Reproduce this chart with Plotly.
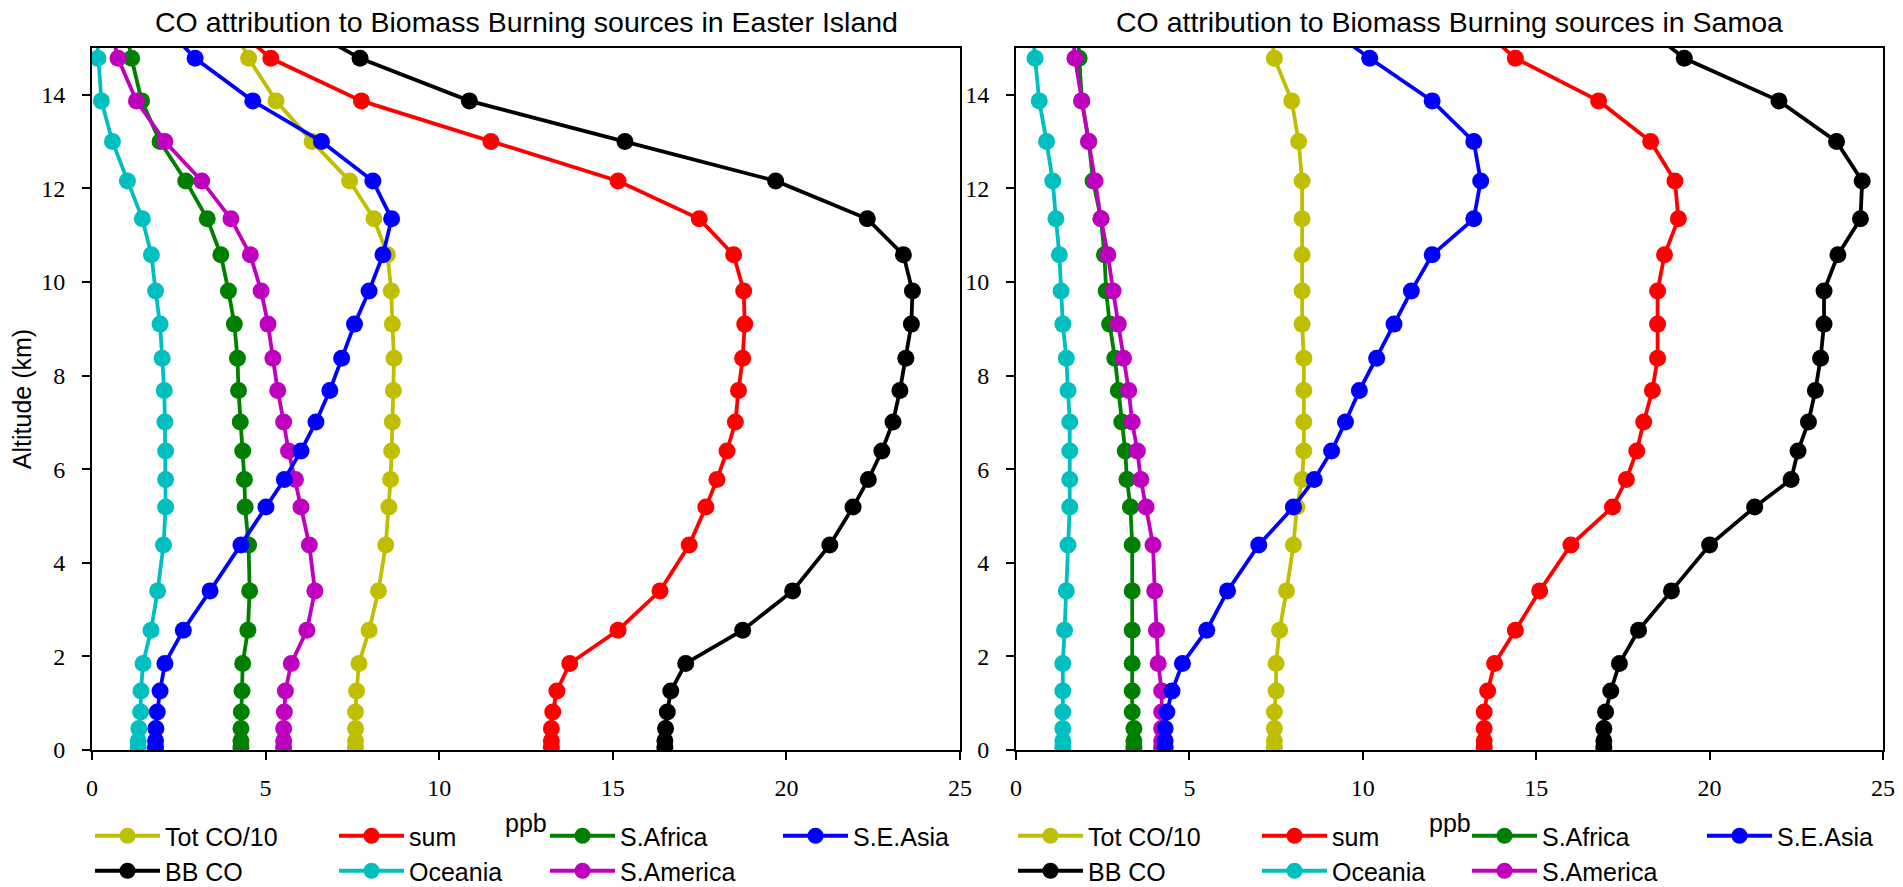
import plotly.graph_objects as go

# Model level mid-point altitudes (km), bottom to top
altitude_km = [0.06, 0.20, 0.46, 0.81, 1.26, 1.85, 2.56, 3.40, 4.38, 5.19, 5.78, 6.39,
               7.01, 7.68, 8.37, 9.10, 9.81, 10.58, 11.35, 12.16, 13.00, 13.87, 14.78, 15.70]

# Easter Island profiles (ppb)
easter_tot_co_10 = [7.59, 7.59, 7.59, 7.59, 7.62, 7.69, 7.98, 8.25, 8.46, 8.55, 8.60, 8.63,
                    8.65, 8.68, 8.70, 8.65, 8.62, 8.51, 8.12, 7.42, 6.34, 5.30, 4.51, 3.90]
easter_bb_co = [16.50, 16.50, 16.52, 16.57, 16.67, 17.10, 18.74, 20.18, 21.25, 21.92, 22.36, 22.75,
                23.07, 23.27, 23.44, 23.60, 23.63, 23.37, 22.33, 19.69, 15.35, 10.87, 7.72, 5.50]
easter_sum = [13.23, 13.23, 13.23, 13.27, 13.39, 13.76, 15.15, 16.36, 17.20, 17.68, 18.00, 18.29,
              18.53, 18.62, 18.74, 18.80, 18.77, 18.48, 17.49, 15.15, 11.49, 7.76, 5.15, 3.70]
easter_oceania = [1.33, 1.33, 1.35, 1.40, 1.41, 1.47, 1.70, 1.89, 2.06, 2.12, 2.12, 2.12,
                  2.10, 2.08, 2.02, 1.96, 1.83, 1.71, 1.45, 1.02, 0.59, 0.27, 0.17, 0.10]
easter_s_africa = [4.29, 4.29, 4.29, 4.30, 4.32, 4.34, 4.49, 4.54, 4.51, 4.41, 4.39, 4.34,
                   4.27, 4.22, 4.19, 4.10, 3.93, 3.71, 3.32, 2.70, 1.96, 1.43, 1.14, 0.90]
easter_s_america = [5.52, 5.52, 5.52, 5.54, 5.57, 5.74, 6.19, 6.42, 6.26, 6.02, 5.86, 5.66,
                    5.52, 5.35, 5.21, 5.07, 4.87, 4.56, 4.00, 3.16, 2.10, 1.28, 0.75, 0.45]
easter_se_asia = [1.83, 1.83, 1.84, 1.88, 1.96, 2.10, 2.63, 3.40, 4.29, 5.01, 5.54, 6.02,
                  6.45, 6.85, 7.19, 7.56, 7.98, 8.38, 8.63, 8.09, 6.61, 4.63, 2.97, 1.80]

# Samoa profiles (ppb)
samoa_tot_co_10 = [7.45, 7.45, 7.45, 7.45, 7.50, 7.50, 7.60, 7.80, 8.00, 8.10, 8.25, 8.30,
                   8.30, 8.30, 8.30, 8.25, 8.25, 8.25, 8.25, 8.25, 8.15, 7.95, 7.45, 7.30]
samoa_bb_co = [16.95, 16.95, 16.95, 17.00, 17.15, 17.40, 17.95, 18.90, 20.00, 21.30, 22.35, 22.55,
               22.85, 23.05, 23.20, 23.30, 23.30, 23.70, 24.35, 24.40, 23.66, 22.00, 19.27, 17.70]
samoa_sum = [13.50, 13.50, 13.50, 13.50, 13.60, 13.80, 14.40, 15.10, 16.00, 17.20, 17.60, 17.90,
             18.10, 18.35, 18.50, 18.50, 18.50, 18.70, 19.10, 19.00, 18.30, 16.80, 14.40, 13.00]
samoa_oceania = [1.35, 1.35, 1.35, 1.35, 1.35, 1.35, 1.40, 1.45, 1.50, 1.55, 1.55, 1.55,
                 1.55, 1.50, 1.45, 1.35, 1.30, 1.25, 1.15, 1.06, 0.88, 0.67, 0.55, 0.45]
samoa_s_africa = [3.40, 3.40, 3.40, 3.35, 3.35, 3.35, 3.35, 3.35, 3.35, 3.30, 3.20, 3.15,
                  3.05, 2.95, 2.85, 2.70, 2.60, 2.55, 2.45, 2.22, 2.10, 1.90, 1.82, 1.75]
samoa_s_america = [4.20, 4.20, 4.20, 4.20, 4.20, 4.10, 4.05, 4.00, 3.95, 3.75, 3.60, 3.50,
                   3.35, 3.25, 3.10, 2.95, 2.80, 2.65, 2.45, 2.28, 2.09, 1.89, 1.70, 1.60]
samoa_se_asia = [4.30, 4.30, 4.30, 4.35, 4.50, 4.80, 5.50, 6.10, 7.00, 8.00, 8.60, 9.10,
                 9.50, 9.90, 10.40, 10.90, 11.40, 12.00, 13.20, 13.40, 13.20, 12.00, 10.20, 8.50]

series_names = ["Tot CO/10", "BB CO", "sum", "Oceania", "S.Africa", "S.America", "S.E.Asia"]
series_colors = ["#bfbf00", "#000000", "#ff0000", "#00bfbf", "#008000", "#bf00bf", "#0000ff"]

panels = [
    dict(title="CO attribution to Biomass Burning sources in Easter Island",
         series=[easter_tot_co_10, easter_bb_co, easter_sum, easter_oceania,
                 easter_s_africa, easter_s_america, easter_se_asia]),
    dict(title="CO attribution to Biomass Burning sources in Samoa",
         series=[samoa_tot_co_10, samoa_bb_co, samoa_sum, samoa_oceania,
                 samoa_s_africa, samoa_s_america, samoa_se_asia]),
]

W, H = 1903, 887
X_DOMAINS_PX = [(92, 960), (1016, 1883)]
Y_TOP_PX, Y_BOT_PX = 48, 750

# legend slot (column, row) for each series, laid out as 4 columns x 2 rows
legend_slots = {"Tot CO/10": (0, 0), "sum": (1, 0), "S.Africa": (2, 0), "S.E.Asia": (3, 0),
                "BB CO": (0, 1), "Oceania": (1, 1), "S.America": (2, 1)}
legend_col_px = [[100, 344, 555, 788], [1023, 1267, 1477, 1712]]
legend_row_px = [836, 871]

SANS = "Liberation Sans, Arial, sans-serif"
SERIF = "Liberation Serif, Times New Roman, serif"


def px_x(px):
    return px / W


def px_y(px):
    return 1 - px / H


fig = go.Figure()
layout_extra = {}
legend_index = 0
for p, panel in enumerate(panels):
    xa = "x" if p == 0 else "x2"
    ya = "y" if p == 0 else "y2"
    for name, color, values in zip(series_names, series_colors, panel["series"]):
        legend_index += 1
        lname = "legend" if legend_index == 1 else f"legend{legend_index}"
        col, row = legend_slots[name]
        fig.add_trace(go.Scatter(
            x=values, y=altitude_km, name=name, mode="lines+markers",
            line=dict(color=color, width=3.8),
            marker=dict(color=color, size=17),
            xaxis=xa, yaxis=ya, legend=lname, showlegend=True,
        ))
        layout_extra[lname] = dict(
            x=px_x(legend_col_px[p][col] - 10), y=px_y(legend_row_px[row]),
            xanchor="left", yanchor="middle", orientation="v",
            bgcolor="rgba(0,0,0,0)", borderwidth=0, itemwidth=65,
            font=dict(family=SANS, size=25, color="#000000"),
        )

axis_common = dict(
    showline=True, mirror=True, linecolor="#000000", linewidth=2,
    ticks="outside", ticklen=8, tickwidth=2, tickcolor="#000000",
    showgrid=False, zeroline=False,
    tickfont=dict(family=SERIF, size=24, color="#000000"),
)

y_dom = [px_y(Y_BOT_PX), px_y(Y_TOP_PX)]
fig.update_layout(
    width=W, height=H, margin=dict(l=0, r=0, t=0, b=0, autoexpand=False),
    showlegend=True,
    paper_bgcolor="#ffffff", plot_bgcolor="#ffffff",
    xaxis=dict(domain=[px_x(X_DOMAINS_PX[0][0]), px_x(X_DOMAINS_PX[0][1])],
               range=[0, 25], tick0=0, dtick=5, anchor="y", ticklabelstandoff=7, **axis_common),
    yaxis=dict(domain=y_dom, range=[0, 15], tick0=0, dtick=2, anchor="x",
               ticklabelstandoff=12,
               title=dict(text="Altitude (km)", standoff=2,
                          font=dict(family=SANS, size=25, color="#000000")),
               **axis_common),
    xaxis2=dict(domain=[px_x(X_DOMAINS_PX[1][0]), px_x(X_DOMAINS_PX[1][1])],
                range=[0, 25], tick0=0, dtick=5, anchor="y2", ticklabelstandoff=7, **axis_common),
    yaxis2=dict(domain=y_dom, range=[0, 15], tick0=0, dtick=2, anchor="x2",
                ticklabelstandoff=12, **axis_common),
    **layout_extra,
)

annotations = []
for p, panel in enumerate(panels):
    x0, x1 = X_DOMAINS_PX[p]
    xc = px_x((x0 + x1) / 2)
    annotations.append(dict(text=panel["title"], x=xc, y=px_y(22), xref="paper", yref="paper",
                            xanchor="center", yanchor="middle", showarrow=False,
                            font=dict(family=SANS, size=28.5, color="#000000")))
    annotations.append(dict(text="ppb", x=xc, y=px_y(823), xref="paper", yref="paper",
                            xanchor="center", yanchor="middle", showarrow=False,
                            font=dict(family=SANS, size=25, color="#000000")))
fig.update_layout(annotations=annotations)

fig.write_html("out.html")
